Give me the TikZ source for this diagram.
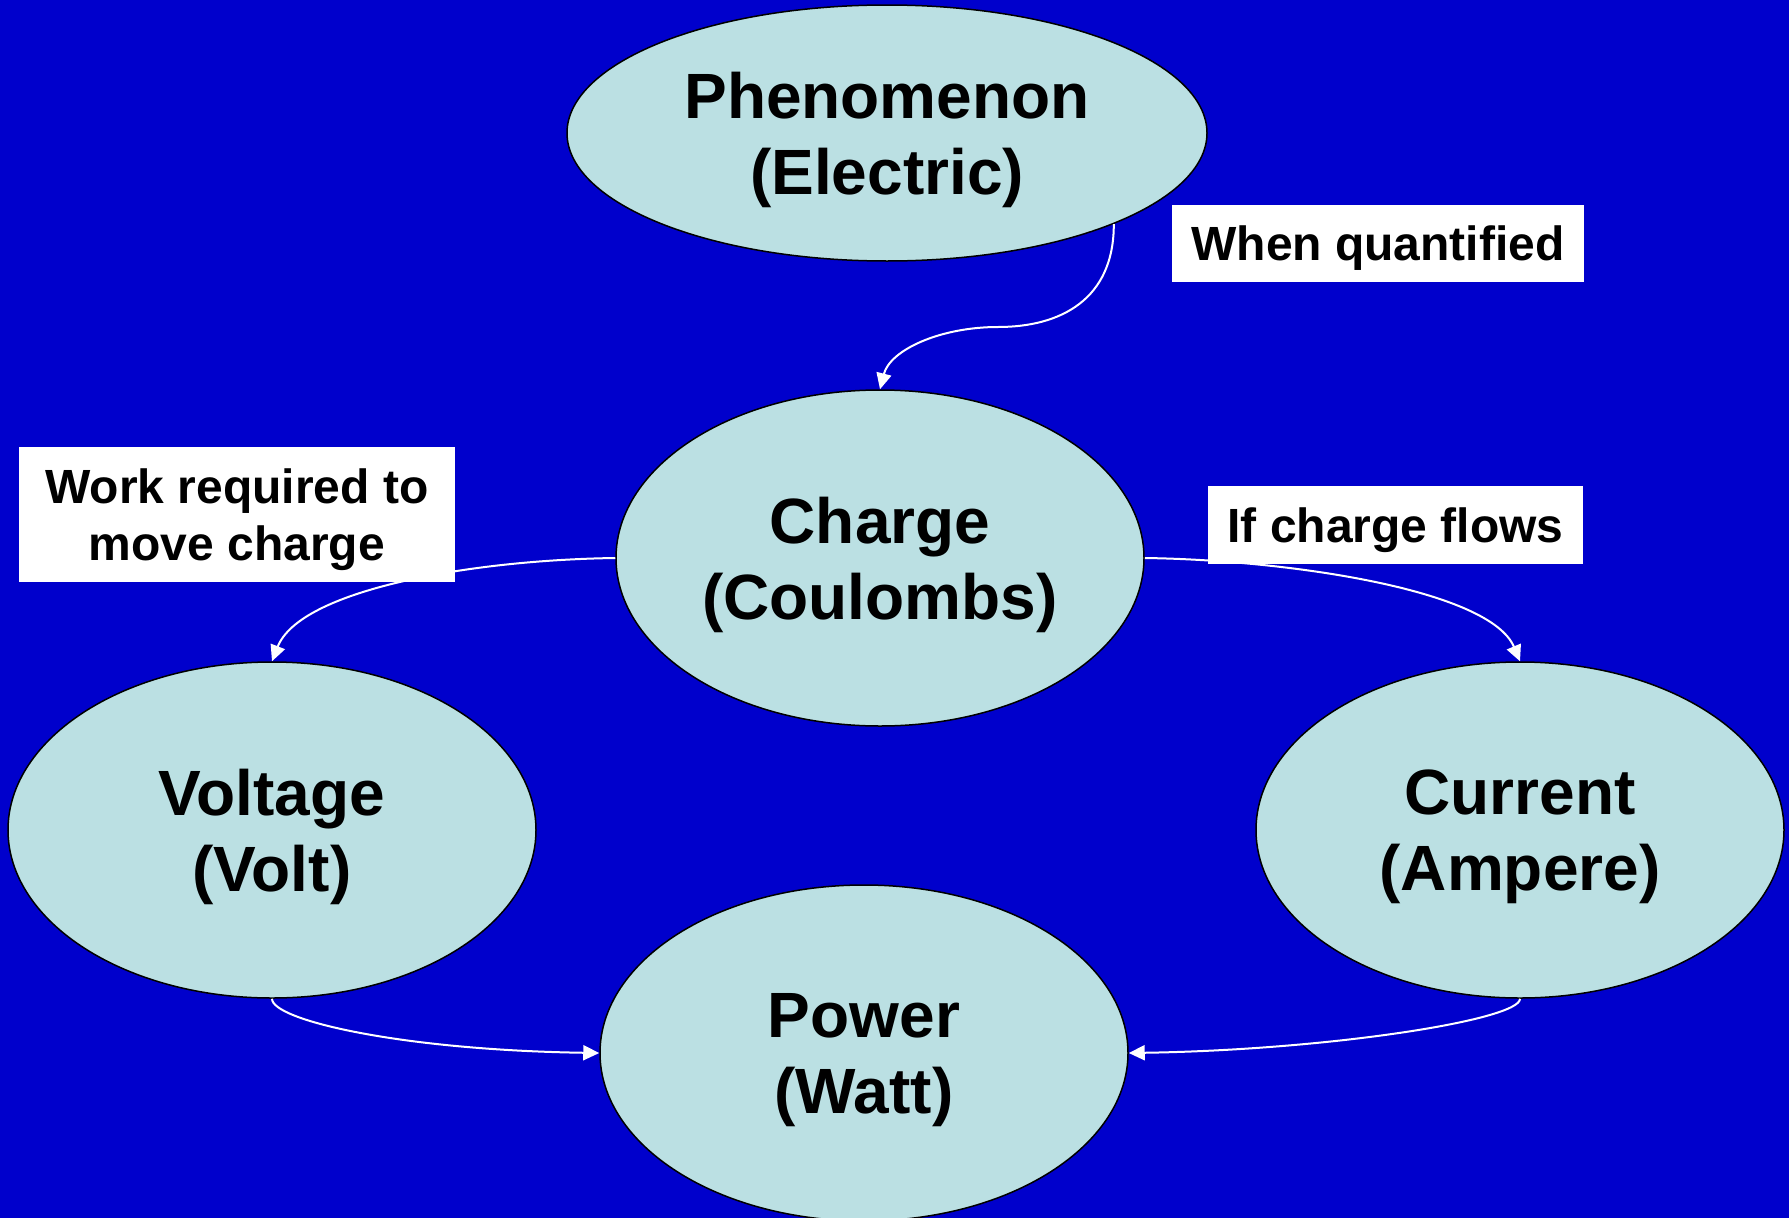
\documentclass[tikz,border=0pt]{standalone}
\usepackage{fontspec}
\setmainfont{Liberation Sans}
\usetikzlibrary{shapes.geometric,arrows.meta}
\definecolor{bgblue}{RGB}{0,0,204}
\definecolor{nodefill}{RGB}{187,224,227}
\tikzset{
  bubble/.style={ellipse, draw=black, line width=1.5pt, fill=nodefill, inner sep=0pt,
    align=center, text depth=-3pt, font=\fontsize{64}{76}\selectfont\bfseries},
  tag/.style={rectangle, fill=white, inner sep=0pt, align=center, text depth=-4pt,
    font=\fontsize{48}{57}\selectfont\bfseries},
  link/.style={draw=white, line width=2pt, -{Triangle[length=16pt,width=15pt]}}
}
\begin{document}
\begin{tikzpicture}[x=1pt,y=-1pt]
\useasboundingbox (0,0) rectangle (1789,1218);
\fill[bgblue] (0,0) rectangle (1789,1218);

\node[bubble, minimum width=640pt, minimum height=256pt] (ph) at (887,133) {Phenomenon\\(Electric)};
\node[bubble, minimum width=528pt, minimum height=336pt] (ch) at (880,558) {Charge\\(Coulombs)};
\node[bubble, minimum width=528pt, minimum height=336pt] (vo) at (272,830) {Voltage\\(Volt)};
\node[bubble, minimum width=528pt, minimum height=336pt] (cu) at (1520,830) {Current\\(Ampere)};
\node[bubble, minimum width=528pt, minimum height=336pt] (pw) at (864,1053) {Power\\(Watt)};

\draw[link] (ph.south east) .. controls (1114,300) and (1060,327) .. (998,327)
  .. controls (940,327) and (890,350) .. (ch.north);
\draw[link] (ch.west) .. controls (470,560) and (300,590) .. (vo.north);
\draw[link] (ch.east) .. controls (1290,560) and (1490,590) .. (cu.north);
\draw[link] (vo.south) .. controls (272,1020) and (400,1050) .. (pw.west);
\draw[link] (cu.south) .. controls (1520,1020) and (1328,1050) .. (pw.east);

\node[tag, minimum width=412pt, minimum height=77pt] (lq) at (1378,243.5) {When quantified};
\node[tag, minimum width=375pt, minimum height=78pt] (lf) at (1395.5,525) {If charge flows};
\node[tag, minimum width=436pt, minimum height=135pt] (lw) at (237,514.5) {Work required to\\move charge};
\end{tikzpicture}
\end{document}
